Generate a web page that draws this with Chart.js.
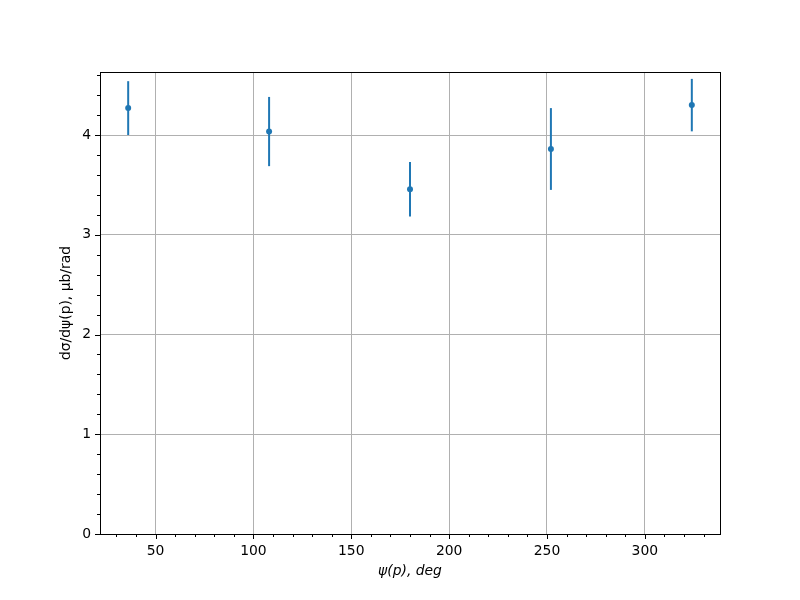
<!DOCTYPE html>
<html>
<head>
<meta charset="utf-8">
<script src="https://cdn.jsdelivr.net/npm/chart.js@4/dist/chart.umd.min.js"></script>
<style>
html,body{margin:0;padding:0;background:#fff;}
#wrap{width:800px;height:600px;}
</style>
</head>
<body>
<div id="wrap"><canvas id="c" width="800" height="600"></canvas></div>
<script>
const psiDeg = [36, 108, 180, 252, 324];
const dSigma = [4.27, 4.035, 3.456, 3.86, 4.30];
const dSigmaErr = [0.27, 0.347, 0.274, 0.41, 0.263];
const xTitle = "ψ(p), deg";
const yTitle = "dσ/dψ(p), μb/rad";

const BLUE = '#1f77b4';

const errorBars = {
  id: 'errorBars',
  afterDatasetsDraw(chart) {
    const ctx = chart.ctx, xs = chart.scales.x, ys = chart.scales.y;
    ctx.save();
    ctx.strokeStyle = BLUE;
    ctx.lineWidth = 2;
    psiDeg.forEach((x, i) => {
      const px = xs.getPixelForValue(x);
      ctx.beginPath();
      ctx.moveTo(px, ys.getPixelForValue(dSigma[i] - dSigmaErr[i]));
      ctx.lineTo(px, ys.getPixelForValue(dSigma[i] + dSigmaErr[i]));
      ctx.stroke();
    });
    ctx.restore();
  }
};

const frameAndTicks = {
  id: 'frameAndTicks',
  afterDraw(chart) {
    const ctx = chart.ctx, a = chart.chartArea, xs = chart.scales.x, ys = chart.scales.y;
    ctx.save();
    ctx.strokeStyle = '#000';
    ctx.lineWidth = 1;
    // ticks x
    for (let v = 30; v <= 330; v += 10) {
      const px = Math.round(xs.getPixelForValue(v)) + 0.5;
      const len = (v % 50 === 0) ? 5 : 3;
      ctx.beginPath(); ctx.moveTo(px, a.bottom); ctx.lineTo(px, a.bottom + len); ctx.stroke();
    }
    for (let k = 0; k <= 23; k++) {
      const v = k * 0.2;
      const py = Math.round(ys.getPixelForValue(v)) + 0.5;
      const len = (k % 5 === 0) ? 5 : 3;
      ctx.beginPath(); ctx.moveTo(a.left, py); ctx.lineTo(a.left - len, py); ctx.stroke();
    }
    ctx.strokeRect(Math.round(a.left) + 0.5, Math.round(a.top) + 0.5, Math.round(a.right - a.left), Math.round(a.bottom - a.top));
    ctx.restore();
  }
};

new Chart(document.getElementById('c'), {
  type: 'scatter',
  data: {
    datasets: [{
      data: psiDeg.map((x, i) => ({x: x, y: dSigma[i]})),
      backgroundColor: BLUE,
      borderColor: BLUE,
      pointRadius: 3,
      pointHoverRadius: 3,
      borderWidth: 0
    }]
  },
  options: {
    responsive: false,
    animation: false,
    devicePixelRatio: 1,
    layout: { padding: { left: 0, right: 80, top: 72, bottom: 0 } },
    plugins: { legend: { display: false }, tooltip: { enabled: false } },
    scales: {
      x: {
        type: 'linear',
        min: 21.6, max: 338.4,
        afterFit(s) { s.height = 66; },
        border: { display: false },
        grid: { color: '#b0b0b0', lineWidth: 1, drawTicks: false },
        ticks: { stepSize: 50, includeBounds: false, color: '#000', padding: 9,
                 font: { family: 'DejaVu Sans', size: 13.9 } },
        title: { display: true, text: xTitle, color: '#000', padding: { top: 0, bottom: 20 },
                 font: { family: 'DejaVu Sans', size: 13.9, style: 'italic' } }
      },
      y: {
        type: 'linear',
        min: 0, max: 4.632,
        afterFit(s) { s.width = 100; },
        border: { display: false },
        grid: { color: '#b0b0b0', lineWidth: 1, drawTicks: false },
        ticks: { stepSize: 1, includeBounds: false, color: '#000', padding: 9,
                 font: { family: 'DejaVu Sans', size: 13.9 } },
        title: { display: true, text: yTitle, color: '#000', padding: { top: 58, bottom: 0 },
                 font: { family: 'DejaVu Sans', size: 13.9 } }
      }
    }
  },
  plugins: [errorBars, frameAndTicks]
});
</script>
</body>
</html>
